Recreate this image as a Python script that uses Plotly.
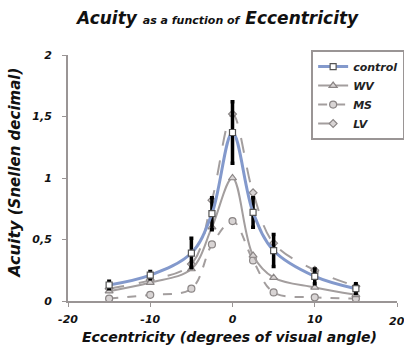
import plotly.graph_objects as go

ecc = [-15, -10, -5, -2.5, 0, 2.5, 5, 10, 15]
control = [0.13, 0.21, 0.39, 0.71, 1.37, 0.72, 0.41, 0.20, 0.10]
control_err = [0.03, 0.03, 0.12, 0.13, 0.25, 0.12, 0.13, 0.06, 0.04]
wv = [0.08, 0.15, 0.26, 0.60, 1.00, 0.37, 0.19, 0.11, 0.05]
ms = [0.02, 0.05, 0.10, 0.46, 0.65, 0.33, 0.07, 0.03, 0.02]
lv = [0.10, 0.17, 0.30, 0.82, 1.52, 0.88, 0.47, 0.25, 0.12]

xticks = [-20, -10, 0, 10, 20]
yticks = [0, 0.5, 1, 1.5, 2]
yticklabels = ["0", "0,5", "1", "1,5", "2"]

FONT = "DejaVu Sans"
GRAY = "#a39e9e"
BLUE = "#8399cc"
MK_FILL = "#d8d4d4"
MK_LINE = "#8a8585"

fig = go.Figure()

# draw gray series first, control on top; legend order set by legendrank
fig.add_trace(go.Scatter(
    x=ecc, y=lv, name="<b><i>LV</i></b>", mode="lines+markers", legendrank=4,
    line=dict(color=GRAY, width=2, dash="longdash", shape="spline"),
    marker=dict(symbol="diamond", size=6, color=MK_FILL, line=dict(color=MK_LINE, width=1.2)),
))
fig.add_trace(go.Scatter(
    x=ecc, y=ms, name="<b><i>MS</i></b>", mode="lines+markers", legendrank=3,
    line=dict(color=GRAY, width=2, dash="dash", shape="spline"),
    marker=dict(symbol="circle", size=7, color=MK_FILL, line=dict(color=MK_LINE, width=1.2)),
))
fig.add_trace(go.Scatter(
    x=ecc, y=wv, name="<b><i>WV</i></b>", mode="lines+markers", legendrank=2,
    line=dict(color=GRAY, width=2, shape="spline"),
    marker=dict(symbol="triangle-up", size=7, color=MK_FILL, line=dict(color=MK_LINE, width=1.2)),
))
fig.add_trace(go.Scatter(
    x=ecc, y=control, name="<b><i>control</i></b>", mode="lines+markers", legendrank=1,
    line=dict(color=BLUE, width=3, shape="spline"),
    marker=dict(symbol="square", size=6, color="white", line=dict(color="#555", width=1.2)),
    error_y=dict(type="data", array=control_err, color="black", thickness=3.5, width=2),
))

# last x tick label drawn as annotation so it can be cut by the page edge
xticktext = ["<b><i>%d</i></b>" % t for t in xticks[:-1]] + [""]

fig.update_layout(
    width=404, height=346,
    margin=dict(l=68, r=7, t=55, b=45, autoexpand=False),
    paper_bgcolor="white", plot_bgcolor="white",
    separators=",.",
    showlegend=True,
    legend=dict(
        x=0.739, y=1.02, xanchor="left", yanchor="top",
        bordercolor="#9a9595", borderwidth=2, bgcolor="white",
        font=dict(family=FONT, size=11, color="#222"),
        itemwidth=30, tracegroupgap=0,
    ),
    xaxis=dict(
        range=[-20, 20], tickvals=xticks, ticktext=xticktext,
        showgrid=False, zeroline=False, automargin=False,
        showline=True, linecolor="#9a9595", linewidth=2,
        ticks="outside", ticklen=4, tickcolor="#9a9595",
        tickfont=dict(family=FONT, size=11, color="#111"),
        ticklabelstandoff=3,
    ),
    yaxis=dict(
        range=[0, 2], tickvals=yticks, ticktext=["<b><i>%s</i></b>" % t for t in yticklabels],
        showgrid=False, zeroline=False, automargin=False,
        showline=True, linecolor="#9a9595", linewidth=2,
        ticks="outside", ticklen=4, tickcolor="#9a9595",
        tickfont=dict(family=FONT, size=11, color="#111"),
        ticklabelstandoff=8,
    ),
    annotations=[
        dict(text="<b><i>%d</i></b>" % xticks[-1], xref="x", yref="paper",
             x=xticks[-1], y=-0.082, showarrow=False, xanchor="center", yanchor="middle",
             font=dict(family=FONT, size=11, color="#111")),
        dict(text="<b><i><span style='font-size:17px'>Acuity</span> <span style='font-size:11px'>as a function of</span> <span style='font-size:17px'>Eccentricity</span></i></b>",
             xref="paper", yref="paper", x=0.453, y=1.15, showarrow=False,
             xanchor="center", yanchor="middle", font=dict(family=FONT, size=17, color="#111")),
        dict(text="<b><i>Eccentricity (degrees of visual angle)</i></b>",
             xref="paper", yref="paper", x=0.49, y=-0.148, showarrow=False,
             xanchor="center", yanchor="middle", font=dict(family=FONT, size=14, color="#111")),
        dict(text="<b><i><span style='font-size:16px'>Acuity</span> (Snellen decimal)</i></b>",
             xref="paper", yref="paper", x=-0.165, y=0.52, showarrow=False, textangle=-90,
             xanchor="center", yanchor="middle", font=dict(family=FONT, size=15, color="#111")),
    ],
)

fig.write_html("out.html", config={"displayModeBar": False},
               post_script="document.body.style.margin='0';document.body.style.overflow='hidden';")
